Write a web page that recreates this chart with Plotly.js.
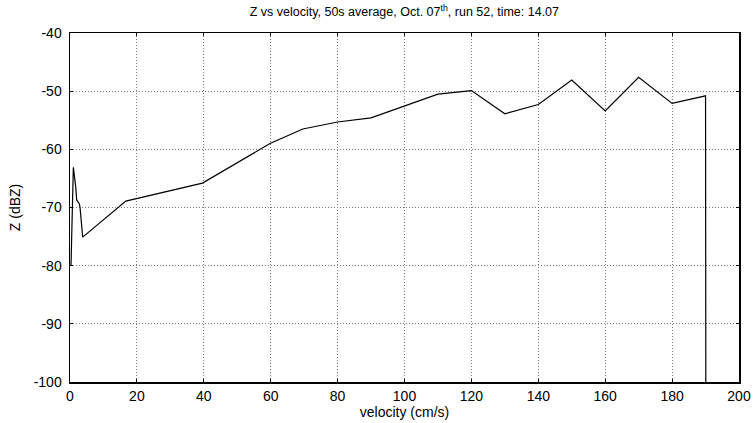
<!DOCTYPE html>
<html>
<head>
<meta charset="utf-8">
<script src="https://cdn.plot.ly/plotly-3.0.1.min.js"></script>
<style>html,body{margin:0;padding:0;background:#fff;}#chart{width:753px;height:423px;}</style>
</head>
<body>
<div id="chart"></div>
<script>
const velocity = [0.3, 1.0, 1.7, 2.0, 2.8, 3.0, 3.8, 16.7, 39.6, 59.8, 69.6, 80, 90, 110, 120, 130, 140, 150, 160, 170, 180, 190, 190.1];
const zdbz = [-80, -63.1, -66.4, -68.7, -69.4, -70.0, -75.1, -68.9, -65.8, -59.0, -56.5, -55.3, -54.6, -50.5, -49.9, -53.9, -52.3, -48.1, -53.4, -47.6, -52.1, -50.8, -110];
const xTicks = [0, 20, 40, 60, 80, 100, 120, 140, 160, 180, 200];
const yTicks = [-100, -90, -80, -70, -60, -50, -40];

const font = {family: 'Liberation Sans, Arial, sans-serif', color: '#000'};
const axisCommon = {
  showline: true, linecolor: '#000', linewidth: 1.5, mirror: 'ticks',
  ticks: 'inside', ticklen: 3, tickcolor: '#000', tickwidth: 1,
  showgrid: true, gridcolor: '#7a7a7a', gridwidth: 1, griddash: '1px,2px',
  zeroline: false, tickfont: Object.assign({size: 14}, font)
};

Plotly.newPlot('chart', [{
  x: velocity, y: zdbz, type: 'scatter', mode: 'lines',
  line: {color: '#000', width: 1.2}, showlegend: false, hoverinfo: 'skip'
}], {
  width: 753, height: 423,
  margin: {l: 70, r: 14, t: 33, b: 41},
  paper_bgcolor: '#fff', plot_bgcolor: '#fff',
  font: font,
  title: {text: 'Z vs velocity, 50s average, Oct. 07<sup>th</sup>, run 52, time: 14.07',
          font: Object.assign({size: 12.5}, font), x: 0.537, xanchor: 'center', y: 0.982, yanchor: 'top'},
  xaxis: Object.assign({}, axisCommon, {
    range: [0, 200], tickvals: xTicks, ticktext: xTicks.map(String), ticklabelstandoff: 1,
    title: {text: 'velocity (cm/s)', font: Object.assign({size: 14}, font), standoff: 0}
  }),
  yaxis: Object.assign({}, axisCommon, {
    range: [-100, -40], tickvals: yTicks, ticktext: yTicks.map(String), ticklabelstandoff: 4,
    title: {text: 'Z (dBZ)', font: Object.assign({size: 14}, font), standoff: 10}
  })
}, {staticPlot: true});
</script>
</body>
</html>
